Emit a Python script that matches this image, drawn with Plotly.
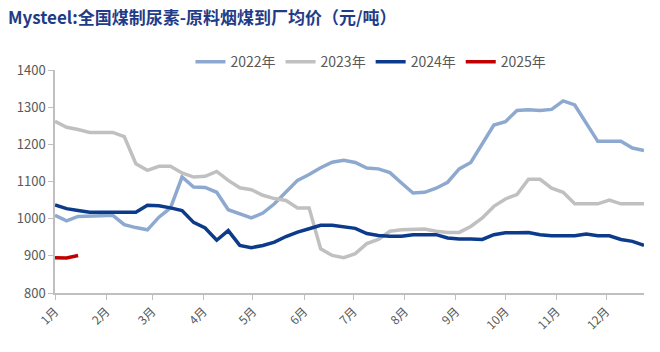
import pandas as pd
import plotly.graph_objects as go

weeks = pd.date_range("2022-01-01", periods=52, freq="7D")

y2022 = [1009, 994, 1006, 1006, 1008, 1009, 984, 976, 970, 1004, 1029, 1112, 1085, 1084,
         1071, 1024, 1013, 1002, 1015, 1040, 1072, 1103, 1119, 1137, 1152, 1157, 1151, 1136,
         1134, 1124, 1096, 1069, 1071, 1082, 1098, 1134, 1151, 1203, 1252, 1261, 1291, 1293,
         1291, 1294, 1317, 1306, 1257, 1208, 1208, 1208, 1190, 1183]
y2023 = [1262, 1246, 1240, 1232, 1232, 1232, 1221, 1148, 1130, 1141, 1141, 1123, 1112, 1114,
         1127, 1103, 1083, 1078, 1063, 1054, 1049, 1029, 1029, 919, 901, 895, 906, 933,
         944, 966, 970, 970, 972, 966, 963, 963, 979, 1002, 1033, 1053, 1065, 1106,
         1106, 1082, 1071, 1040, 1040, 1040, 1050, 1040, 1040, 1040]
y2024 = [1037, 1027, 1022, 1017, 1017, 1017, 1019, 1017, 1036, 1035, 1029, 1022, 990, 975,
         942, 968, 928, 922, 928, 937, 952, 964, 973, 982, 982, 979, 974, 960,
         955, 953, 953, 957, 957, 957, 948, 945, 945, 944, 957, 962, 962, 963,
         957, 954, 954, 954, 959, 954, 954, 944, 939, 928]
y2025 = [895, 894, 901]

series = [
    ("2022年", y2022, "#8EA9D0"),
    ("2023年", y2023, "#C0C0C0"),
    ("2024年", y2024, "#0D3B8C"),
    ("2025年", y2025, "#C00000"),
]

month_starts = pd.date_range("2022-01-01", periods=12, freq="MS")
month_labels = [f"{m}月" for m in range(1, 13)]
y_ticks = [800, 900, 1000, 1100, 1200, 1300, 1400]

fig = go.Figure()
for name, vals, color in series:
    fig.add_trace(go.Scatter(
        x=weeks[:len(vals)], y=vals, name=name, mode="lines",
        line=dict(color=color, width=3.5),
    ))

fig.update_layout(
    width=660, height=352,
    margin=dict(l=55, r=16, t=70, b=59),
    paper_bgcolor="white", plot_bgcolor="white",
    font=dict(family="Noto Sans CJK SC, sans-serif", color="#595959", size=13),
    title=dict(
        text="<b>Mysteel:全国煤制尿素-原料烟煤到厂均价（元/吨）</b>",
        x=0.012, xanchor="left", y=0.95, yanchor="middle",
        font=dict(size=17, color="#1F3C88", family="Noto Sans CJK SC, sans-serif"),
    ),
    legend=dict(
        orientation="h", x=0.23, xanchor="left", y=1.035, yanchor="middle",
        font=dict(size=14, color="#595959"), bgcolor="rgba(0,0,0,0)",
        itemwidth=30, tracegroupgap=0,
    ),
    showlegend=True,
)
fig.update_xaxes(
    range=["2022-01-01", "2022-12-24"],
    tickvals=month_starts, ticktext=month_labels, tickangle=-45,
    showgrid=False, zeroline=False,
    showline=True, linecolor="#BFBFBF", linewidth=1.5,
    ticks="outside", tickcolor="#BFBFBF", ticklen=5,
    tickfont=dict(size=12, color="#595959"),
)
fig.update_yaxes(
    range=[800, 1400], tickvals=y_ticks,
    showgrid=False, zeroline=False,
    showline=True, linecolor="#BFBFBF", linewidth=1.5,
    ticks="outside", tickcolor="#BFBFBF", ticklen=5,
    tickfont=dict(size=13, color="#595959"),
)

fig.write_html("out.html")
